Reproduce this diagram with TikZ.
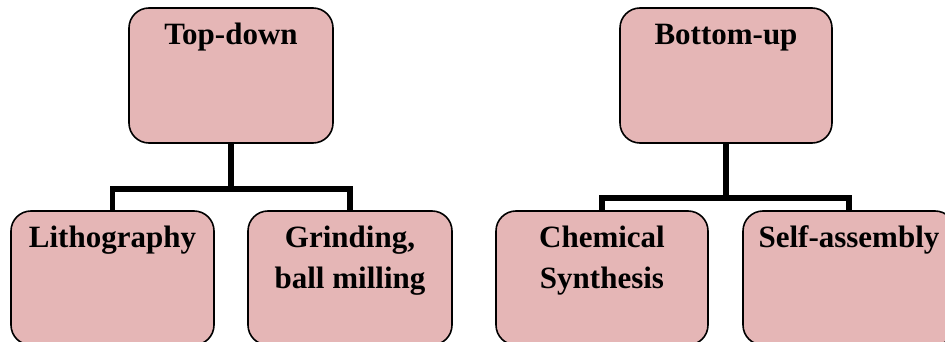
\documentclass[tikz,border=0pt]{standalone}
\usepackage{fontspec}
\setmainfont{Liberation Serif}
\usetikzlibrary{calc}
\definecolor{boxfill}{RGB}{229,182,182}
\begin{document}
\begin{tikzpicture}[x=1pt,y=-1pt,
  box/.style={draw=black,fill=boxfill,line width=1.6pt,rounded corners=20pt,inner sep=0pt,outer sep=0pt},
  lbl/.style={font=\fontsize{31}{41}\selectfont\bfseries,inner sep=0pt,anchor=base,align=center},
  conn/.style={line width=5.5pt}]
\useasboundingbox (0,0) rectangle (945,342);
\clip (0,0) rectangle (945,342);
% boxes
\node[box,minimum width=204pt,minimum height=135pt] (td) at (231,75.5) {};
\node[box,minimum width=203pt,minimum height=134pt] (lith) at (112.5,278) {};
\node[box,minimum width=204pt,minimum height=134pt] (grind) at (350,278) {};
\node[box,minimum width=212pt,minimum height=135pt] (bu) at (726,75.5) {};
\node[box,minimum width=212pt,minimum height=134pt] (chem) at (602,278) {};
\node[box,minimum width=212pt,minimum height=134pt] (self) at (849,278) {};
% connectors
\coordinate (tdj) at (231,189);
\coordinate (buj) at (726,198);
\draw[conn] (td.south) -- (tdj);
\draw[conn] (tdj) -| (lith.north);
\draw[conn] (tdj) -| (grind.north);
\draw[conn] (bu.south) -- (buj);
\draw[conn] (buj) -| (chem.north);
\draw[conn] (buj) -| (self.north);
% labels
\node[lbl] (tdt) at ($(td.north)+(0,37)$) {Top-down};
\node[lbl] (but) at ($(bu.north)+(0,37)$) {Bottom-up};
\node[lbl] (litht) at ($(lith.north)+(0,36)$) {Lithography};
\node[lbl] (grindt) at ($(grind.north)+(0,77)$) {Grinding,\\ball milling};
\node[lbl] (chemt) at ($(chem.north)+(0,77)$) {Chemical\\Synthesis};
\node[lbl] (selft) at ($(self.north)+(0,36)$) {Self-assembly};
\end{tikzpicture}
\end{document}
